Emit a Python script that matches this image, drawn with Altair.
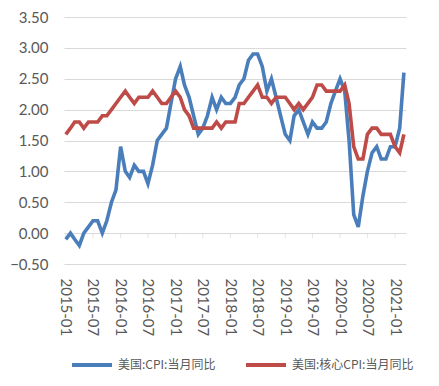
import altair as alt
import pandas as pd

months = pd.date_range("2015-01-01", "2021-03-01", freq="MS").strftime("%Y-%m-%d").tolist()

cpi = [-0.1, 0.0, -0.1, -0.2, 0.0, 0.1, 0.2, 0.2, 0.0, 0.2, 0.5, 0.7,
       1.4, 1.0, 0.9, 1.1, 1.0, 1.0, 0.8, 1.1, 1.5, 1.6, 1.7, 2.1,
       2.5, 2.7, 2.4, 2.2, 1.9, 1.6, 1.7, 1.9, 2.2, 2.0, 2.2, 2.1,
       2.1, 2.2, 2.4, 2.5, 2.8, 2.9, 2.9, 2.7, 2.3, 2.5, 2.2, 1.9,
       1.6, 1.5, 1.9, 2.0, 1.8, 1.6, 1.8, 1.7, 1.7, 1.8, 2.1, 2.3,
       2.5, 2.3, 1.5, 0.3, 0.1, 0.6, 1.0, 1.3, 1.4, 1.2, 1.2, 1.4,
       1.4, 1.7, 2.6]

core = [1.6, 1.7, 1.8, 1.8, 1.7, 1.8, 1.8, 1.8, 1.9, 1.9, 2.0, 2.1,
        2.2, 2.3, 2.2, 2.1, 2.2, 2.2, 2.2, 2.3, 2.2, 2.1, 2.1, 2.2,
        2.3, 2.2, 2.0, 1.9, 1.7, 1.7, 1.7, 1.7, 1.7, 1.8, 1.7, 1.8,
        1.8, 1.8, 2.1, 2.1, 2.2, 2.3, 2.4, 2.2, 2.2, 2.1, 2.2, 2.2,
        2.2, 2.1, 2.0, 2.1, 2.0, 2.1, 2.2, 2.4, 2.4, 2.3, 2.3, 2.3,
        2.3, 2.4, 2.1, 1.4, 1.2, 1.2, 1.6, 1.7, 1.7, 1.6, 1.6, 1.6,
        1.4, 1.3, 1.6]

series_names = ["美国:CPI:当月同比", "美国:核心CPI:当月同比"]
series_colors = ["#4a7ebb", "#be4b48"]

tick_labels = ["2015-01", "2015-07", "2016-01", "2016-07", "2017-01", "2017-07",
               "2018-01", "2018-07", "2019-01", "2019-07", "2020-01", "2020-07", "2021-01"]
y_ticks = [-0.5, 0.0, 0.5, 1.0, 1.5, 2.0, 2.5, 3.0, 3.5]

df = pd.DataFrame({
    "date": months * 2,
    "value": cpi + core,
    "series": [series_names[0]] * len(cpi) + [series_names[1]] * len(core),
})
ticks_df = pd.DataFrame({"date": [t + "-01" for t in tick_labels]})

x_scale = alt.Scale(domain=["2014-12-20", "2021-03-15"])
y_scale = alt.Scale(domain=[-0.5, 3.5], nice=False)

x_axis = alt.Axis(values=[t + "-01" for t in tick_labels], format="%Y-%m",
                  labelAngle=90, title=None, domain=False, ticks=False, grid=False,
                  labelFont="Lato", labelFontSize=15, labelColor="#595959",
                  labelPadding=14, labelOverlap=False, labelFlush=False)
y_axis = alt.Axis(values=y_ticks, format=".2f", title=None, domain=False, ticks=False,
                  grid=True, gridColor="#d9d9d9", gridWidth=1,
                  labelFont="Lato", labelFontSize=15, labelColor="#595959",
                  labelPadding=16, labelOverlap=False, labelFlush=False)

lines = alt.Chart(df).mark_line(strokeWidth=3.6).encode(
    x=alt.X("date:T", scale=x_scale, axis=x_axis),
    y=alt.Y("value:Q", scale=y_scale, axis=y_axis),
    color=alt.Color("series:N", sort=series_names,
                    scale=alt.Scale(domain=series_names, range=series_colors),
                    legend=alt.Legend(title=None, orient="none", legendX=6, legendY=326,
                                      direction="horizontal", symbolType="stroke",
                                      symbolSize=1600, symbolStrokeWidth=4,
                                      labelFont="Noto Sans CJK SC", labelFontSize=12,
                                      labelColor="#595959", labelOffset=4,
                                      columnPadding=22, labelLimit=200)),
)

ticks = alt.Chart(ticks_df).mark_tick(orient="vertical", size=5, thickness=1,
                                      color="#d9d9d9", yOffset=2.5).encode(
    x=alt.X("date:T", scale=x_scale, axis=x_axis),
    y=alt.Y(datum=0, type="quantitative", scale=y_scale, axis=y_axis),
)

chart = alt.layer(ticks, lines).properties(
    width=342, height=247,
    autosize=alt.AutoSizeParams(type="none"),
    padding={"left": 56, "top": 9, "right": 25, "bottom": 114},
).configure_view(stroke=None)

chart.save("out.html", embed_options={"renderer": "svg", "actions": False})
